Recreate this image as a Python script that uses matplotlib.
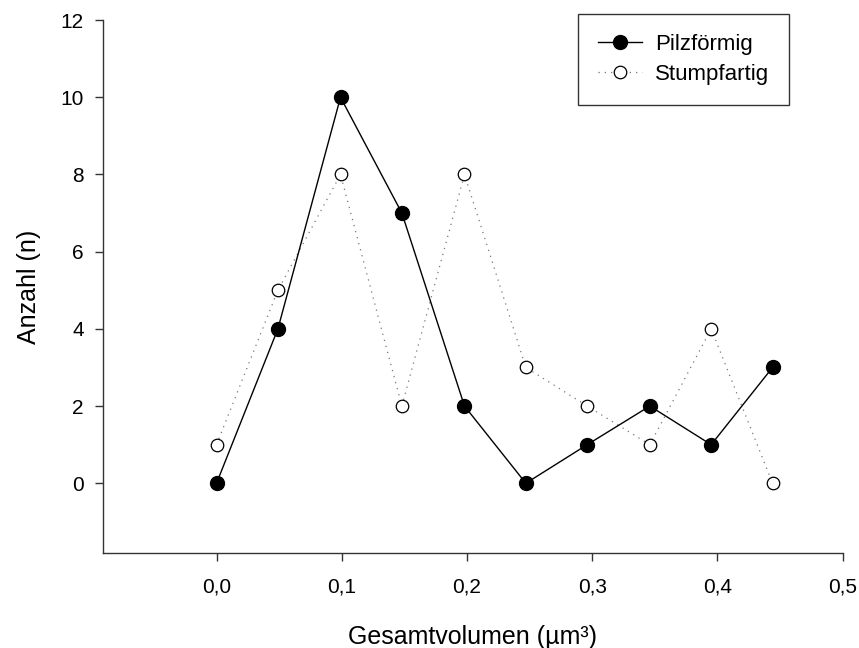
import matplotlib
matplotlib.use('Agg')
import matplotlib.pyplot as plt

plt.rcParams['font.family'] = ['Liberation Sans', 'DejaVu Sans']

volumen = [0.0, 0.049, 0.099, 0.148, 0.198, 0.247, 0.296, 0.346, 0.395, 0.444]
pilzfoermig = [0, 4, 10, 7, 2, 0, 1, 2, 1, 3]
stumpfartig = [1, 5, 8, 2, 8, 3, 2, 1, 4, 0]
x_ticks = [0.0, 0.1, 0.2, 0.3, 0.4, 0.5]
x_labels = ['0,0', '0,1', '0,2', '0,3', '0,4', '0,5']
y_ticks = [0, 2, 4, 6, 8, 10, 12]

fig = plt.figure(figsize=(8.59, 6.48), dpi=100)
ax = fig.add_axes([0.120, 0.147, 0.861, 0.822])

ax.plot(volumen, stumpfartig, linestyle=(0, (1, 4)), color='#777777', linewidth=0.9,
        marker='o', markersize=9, markerfacecolor='white', markeredgecolor='black',
        markeredgewidth=0.9, label='Stumpfartig', zorder=2)
ax.plot(volumen, pilzfoermig, linestyle='-', color='black', linewidth=1.0,
        marker='o', markersize=10, markerfacecolor='black', markeredgecolor='black',
        label='Pilzförmig', zorder=3)

ax.set_xlim(-0.0906, 0.5)
ax.set_ylim(-1.8, 12)
ax.set_xticks(x_ticks)
ax.set_xticklabels(x_labels)
ax.set_yticks(y_ticks)

for s in ['top', 'right']:
    ax.spines[s].set_visible(False)
for s in ['left', 'bottom']:
    ax.spines[s].set_color('#333333')
    ax.spines[s].set_linewidth(1.0)

ax.tick_params(axis='both', direction='out', length=6, width=1.0, colors='#333333',
               labelsize=15, labelcolor='black')
ax.tick_params(axis='x', pad=12)
ax.tick_params(axis='y', pad=8)

ax.set_xlabel('Gesamtvolumen (µm³)', fontsize=18, labelpad=20)
ax.set_ylabel('Anzahl (n)', fontsize=18, labelpad=14)

handles, labels = ax.get_legend_handles_labels()
leg = ax.legend(handles[::-1], labels[::-1], loc='upper right',
                bbox_to_anchor=(0.928, 1.011), borderaxespad=0, fontsize=16,
                frameon=True, fancybox=False, edgecolor='black', borderpad=0.9,
                handlelength=2.0, handletextpad=0.6, labelspacing=0.4)
leg.get_frame().set_linewidth(1.0)

fig.savefig('out.png', dpi=100)
